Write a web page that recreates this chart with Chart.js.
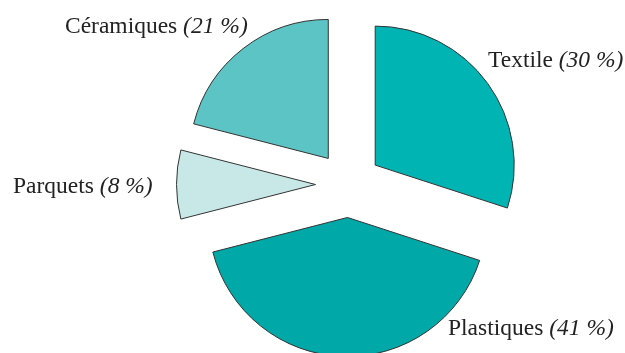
<!DOCTYPE html>
<html>
<head>
<meta charset="utf-8">
<script src="https://cdn.jsdelivr.net/npm/chart.js@4/dist/chart.umd.min.js"></script>
<style>
    body { margin: 0; background: #fff; }
    #wrap { width: 625px; height: 353px; }
</style>
</head>
<body>
<div id="wrap"><canvas id="grafico" width="625" height="353"></canvas></div>
<script>
// Données du graphique
const categories = ['Textile', 'Plastiques', 'Parquets', 'Céramiques'];
const valeurs = [30, 41, 8, 21];
const etiquettes = ['(30 %)', '(41 %)', '(8 %)', '(21 %)'];

const couleurs = ['#00b4b4', '#00a8a8', '#c8e8e8', '#5cc4c4'];
// position des étiquettes (gauche, ligne de base)
const posEtiquettes = [[488, 67], [448, 335], [13, 193], [65, 33]];
const eclatement = 33;
const rayon = 139;

// Éclater chaque part le long de son angle médian
const eclatePlugin = {
    id: 'eclate',
    beforeDatasetsDraw(chart) {
        const area = chart.chartArea;
        const cx = (area.left + area.right) / 2;
        const cy = (area.top + area.bottom) / 2;
        chart.getDatasetMeta(0).data.forEach(arc => {
            const mid = (arc.startAngle + arc.endAngle) / 2;
            arc.x = cx + Math.cos(mid) * eclatement;
            arc.y = cy + Math.sin(mid) * eclatement;
        });
    }
};

// Étiquettes : nom en romain, pourcentage en italique
const etiquettesPlugin = {
    id: 'etiquettes',
    afterDraw(chart) {
        const ctx = chart.ctx;
        ctx.save();
        ctx.fillStyle = '#222';
        ctx.textBaseline = 'alphabetic';
        ctx.textAlign = 'left';
        categories.forEach((nom, i) => {
            const [x, y] = posEtiquettes[i];
            ctx.font = '23.5px "Liberation Serif", "Times New Roman", serif';
            const texte = nom + ' ';
            ctx.fillText(texte, x, y);
            const w = ctx.measureText(texte).width;
            ctx.font = 'italic 23.5px "Liberation Serif", "Times New Roman", serif';
            ctx.fillText(etiquettes[i], x + w, y);
        });
        ctx.restore();
    }
};

new Chart(document.getElementById('grafico'), {
    type: 'pie',
    data: {
        labels: categories,
        datasets: [{
            data: valeurs,
            backgroundColor: couleurs,
            borderColor: '#333',
            borderWidth: 1,
            radius: rayon,
            clip: false
        }]
    },
    options: {
        responsive: false,
        animation: false,
        layout: { padding: { left: 72, right: 0, top: 16, bottom: 0 } },
        plugins: {
            legend: { display: false },
            tooltip: { enabled: false }
        }
    },
    plugins: [eclatePlugin, etiquettesPlugin]
});
</script>
</body>
</html>
